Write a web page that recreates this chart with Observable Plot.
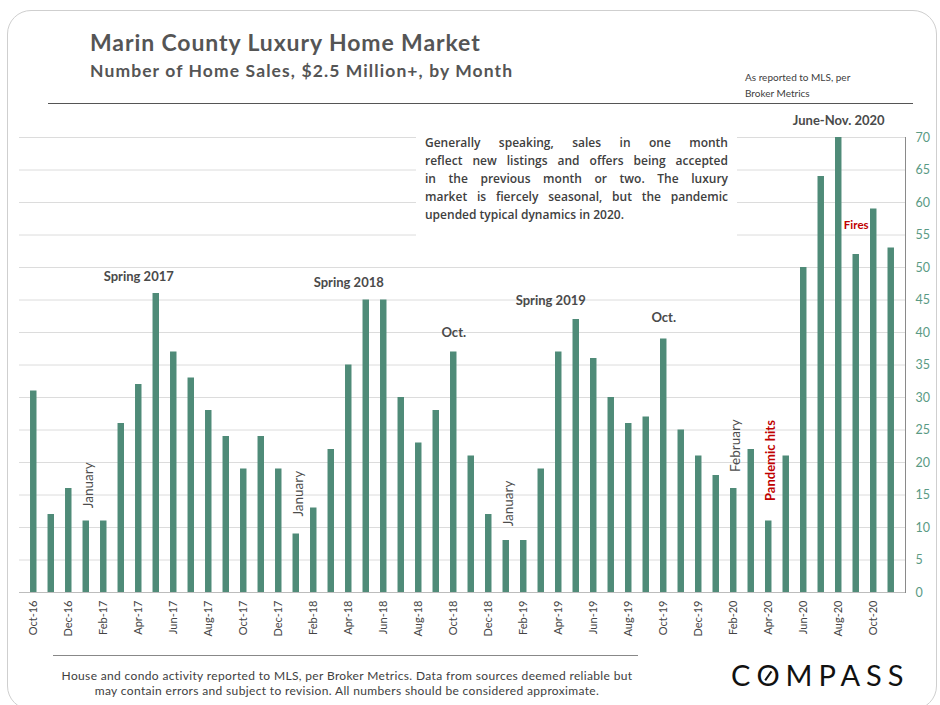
<!DOCTYPE html>
<html>
<head>
<meta charset="utf-8">
<script src="https://cdn.jsdelivr.net/npm/d3@7"></script>
<script src="https://cdn.jsdelivr.net/npm/@observablehq/plot@0.6"></script>
<style>
  html, body { margin: 0; padding: 0; background: #fff; }
  #wrap { position: relative; width: 940px; height: 705px; overflow: hidden; font-family: Lato, "Open Sans", sans-serif; }
  #border { position: absolute; left: 7px; top: 10px; width: 930px; height: 700px; border: 1.5px solid #cfcfcf; border-radius: 24px; box-sizing: border-box; }
  .abs { position: absolute; white-space: nowrap; }
  #title { left: 90px; top: 28px; font-size: 23px; font-weight: 700; color: #555; letter-spacing: 0.9px; }
  #subtitle { left: 90px; top: 60px; font-size: 17.5px; font-weight: 700; color: #555; letter-spacing: 1.1px; }
  #source { left: 745px; top: 69px; font-size: 10px; color: #404040; line-height: 16px; }
  #rule1 { left: 48px; top: 103px; width: 865px; height: 0; border-top: 1.3px solid #555; }
  #rule2 { left: 53px; top: 655px; width: 585px; height: 0; border-top: 1px solid #888; }
  #caption { left: 30px; top: 668px; width: 634px; text-align: center; font-size: 12px; letter-spacing: 0.35px; color: #404040; line-height: 15px; }
  #logo { left: 731px; top: 657px; font-size: 29px; font-weight: 400; color: #111; letter-spacing: 6px; font-family: Lato, sans-serif; }
  #logo .o { position: relative; display: inline-block; }
  #logo .o::after { content: ""; position: absolute; left: 24%; top: 52%; width: 36%; height: 2.2px; background: #111; transform: rotate(-55deg); transform-origin: center; }
  #note { left: 416px; top: 128px; width: 321px; height: 112px; background: #fff; }
  #note .ln { position: absolute; left: 9px; width: 303px; font-family: "Open Sans", sans-serif; font-weight: 600; font-size: 12px; color: #404040; text-align: justify; text-align-last: justify; white-space: nowrap; }
  #note .ln.last { text-align-last: left; }
  #chart { position: absolute; left: 0; top: 0; }
</style>
</head>
<body>
<div id="wrap">
  <div id="border"></div>
  <div id="chart"></div>
  <div id="note" class="abs"></div>
  <div id="title" class="abs">Marin County Luxury Home Market</div>
  <div id="subtitle" class="abs">Number of Home Sales, $2.5 Million+, by Month</div>
  <div id="source" class="abs">As reported to MLS, per<br>Broker Metrics</div>
  <div id="rule1" class="abs"></div>
  <div id="rule2" class="abs"></div>
  <div id="caption" class="abs">House and condo activity reported to MLS, per Broker Metrics. Data from sources deemed reliable but<br>may contain errors and subject to revision. All numbers should be considered approximate.</div>
  <div id="logo" class="abs">C<span class="o">O</span>MPASS</div>
</div>
<script>
// ---- data ----
const months = [
  "Oct-16","Nov-16","Dec-16",
  "Jan-17","Feb-17","Mar-17","Apr-17","May-17","Jun-17","Jul-17","Aug-17","Sep-17","Oct-17","Nov-17","Dec-17",
  "Jan-18","Feb-18","Mar-18","Apr-18","May-18","Jun-18","Jul-18","Aug-18","Sep-18","Oct-18","Nov-18","Dec-18",
  "Jan-19","Feb-19","Mar-19","Apr-19","May-19","Jun-19","Jul-19","Aug-19","Sep-19","Oct-19","Nov-19","Dec-19",
  "Jan-20","Feb-20","Mar-20","Apr-20","May-20","Jun-20","Jul-20","Aug-20","Sep-20","Oct-20","Nov-20"
];
const sales = [
  31,12,16,
  11,11,26,32,46,37,33,28,24,19,24,19,
  9,13,22,35,45,45,30,23,28,37,21,12,
  8,8,19,37,42,36,30,26,27,39,25,21,
  18,16,22,11,21,50,64,70,52,59,53
];
const xTickLabels = months.filter((d, i) => i % 2 === 0);
const yTickValues = [0,5,10,15,20,25,30,35,40,45,50,55,60,65,70];

// annotation labels (text, month, value)
const periodLabels = ["Spring 2017", "Spring 2018", "Oct.", "Oct.", "June-Nov. 2020"];
const periodMonths = ["Apr-17", "Apr-18", "Oct-18", "Oct-19", "Aug-20"];
const periodValues = [48.5, 47.7, 40, 42.2, 72.6];
const spring19Label = ["Spring 2019"];
const spring19Month = ["Apr-19"];
const spring19Value = [44.9];
const monthNotes = ["January", "January", "January", "February"];
const monthNoteMonths = ["Jan-17", "Jan-18", "Jan-19", "Feb-20"];
const monthNoteValues = [16.5, 15.2, 13.7, 22.6];
const eventNotes = ["Pandemic hits"];
const eventMonths = ["Apr-20"];
const eventValues = [20.3];
const fireNotes = ["Fires"];
const fireMonths = ["Sep-20"];
const fireValues = [56.5];
const noteLines = [
  "Generally speaking, sales in one month",
  "reflect new listings and offers being accepted",
  "in the previous month or two. The luxury",
  "market is fiercely seasonal, but the pandemic",
  "upended typical dynamics in 2020."
];

// ---- build tables ----
const table = months.map((m, i) => ({month: m, sales: sales[i]}));
const mk = (labels, ms, vs) => labels.map((t, i) => ({text: t, month: ms[i], value: vs[i]}));

const chart = Plot.plot({
  width: 940,
  height: 705,
  marginTop: 137,
  marginBottom: 113,
  marginLeft: 19,
  marginRight: 35,
  style: {background: "transparent", fontFamily: "Lato, 'Open Sans', sans-serif"},
  x: {domain: months, padding: 0.63, round: false, label: null},
  y: {domain: [0, 70], label: null},
  marks: [
    Plot.ruleY(yTickValues.slice(1), {stroke: "#dcdcdc", strokeWidth: 1}),
    Plot.ruleY([0], {stroke: "#bdbdbd", strokeWidth: 1}),
    Plot.barY(table, {x: "month", y: "sales", fill: "#4f8b78"}),
    Plot.frame({anchor: "right", stroke: "#8a8a8a"}),
    Plot.axisY({anchor: "right", ticks: yTickValues, tickSize: 0, tickPadding: 10, fill: "#5a9a84", fontSize: 12.5, label: null, textAnchor: "start"}),
    Plot.axisX({ticks: xTickLabels, tickRotate: -90, tickSize: 0, tickPadding: 8, fill: "#444", fontSize: 11, label: null}),
    Plot.text(mk(periodLabels, periodMonths, periodValues), {x: "month", y: "value", text: "text", fill: "#4a4a4a", fontWeight: 700, fontSize: 13}),
    Plot.text(mk(spring19Label, spring19Month, spring19Value), {x: "month", y: "value", text: "text", fill: "#4a4a4a", fontWeight: 700, fontSize: 13, dx: -8}),
    Plot.text(mk(monthNotes, monthNoteMonths, monthNoteValues), {x: "month", y: "value", text: "text", fill: "#4d4d4d", fontSize: 13.5, rotate: -90, dx: 2}),
    Plot.text(mk(eventNotes, eventMonths, eventValues), {x: "month", y: "value", text: "text", fill: "#c00000", fontWeight: 700, fontSize: 13, rotate: -90, dx: 2}),
    Plot.text(mk(fireNotes, fireMonths, fireValues), {x: "month", y: "value", text: "text", fill: "#c00000", fontWeight: 700, fontSize: 11.5})
  ]
});
document.getElementById("chart").appendChild(chart);

// justified note box
const note = document.getElementById("note");
noteLines.forEach((t, i) => {
  const d = document.createElement("div");
  d.className = "ln" + (i === noteLines.length - 1 ? " last" : "");
  d.style.top = (6 + i * 18) + "px";
  d.textContent = t;
  note.appendChild(d);
});
</script>
</body>
</html>
